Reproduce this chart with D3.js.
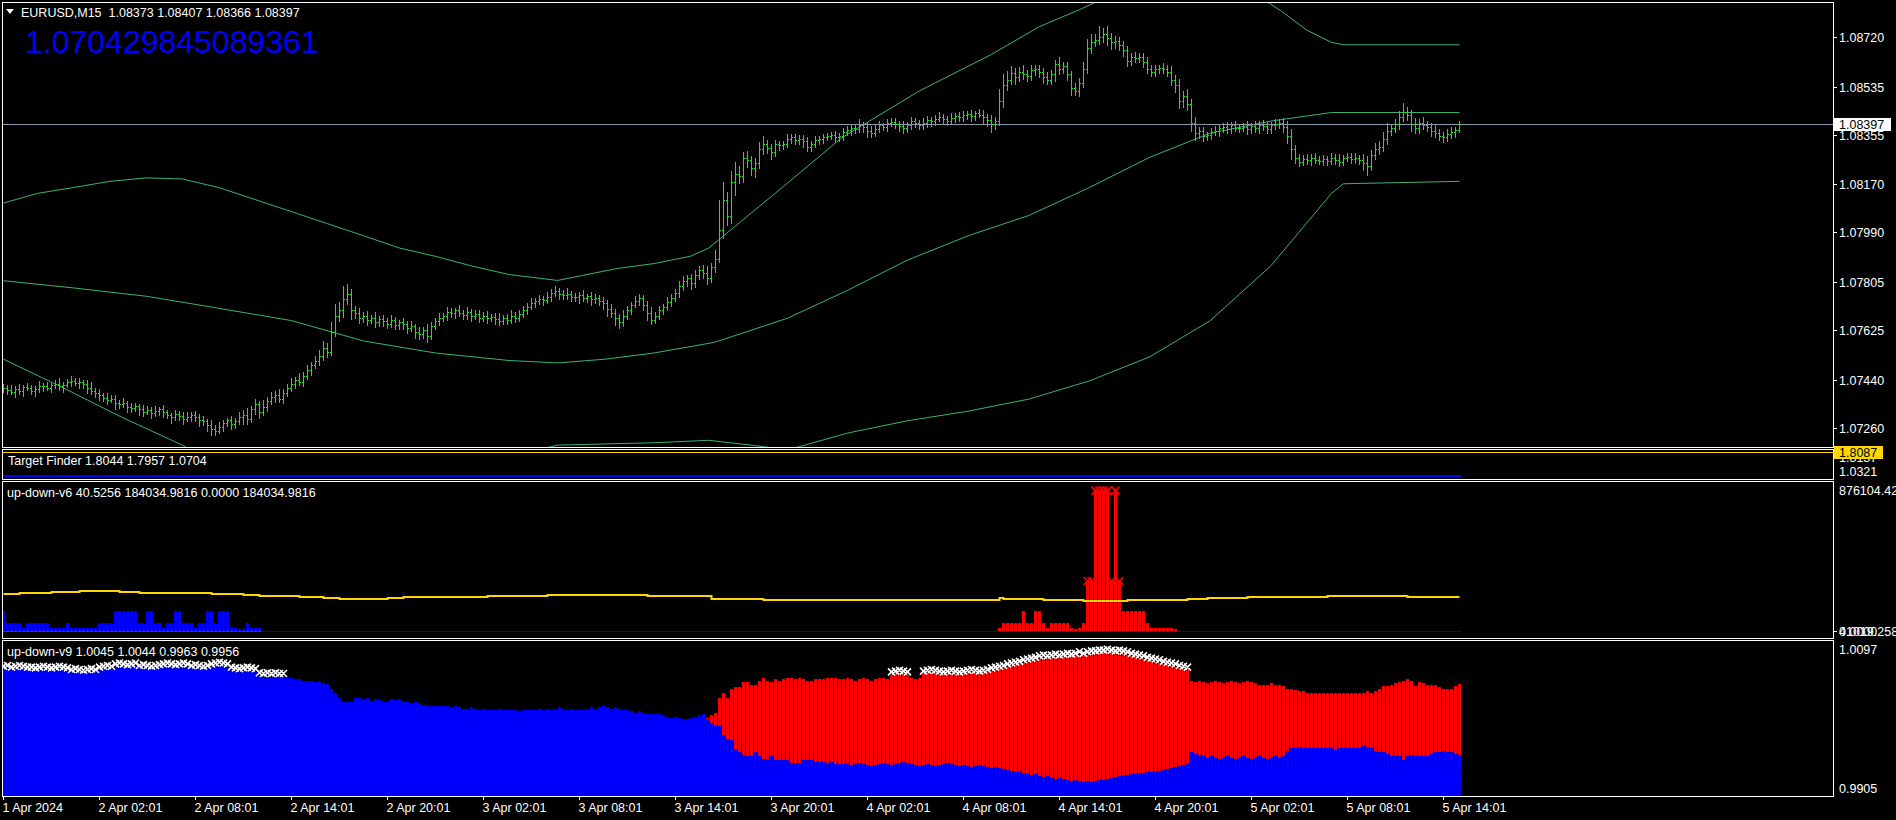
<!DOCTYPE html>
<html>
<head>
<meta charset="utf-8">
<script src="https://cdn.jsdelivr.net/npm/d3@7/dist/d3.min.js"></script>
<style>
html,body{margin:0;padding:0;background:#000;overflow:hidden;}
svg{display:block;}
text{font-family:"Liberation Sans",Arial,sans-serif;font-size:12.5px;fill:#ffffff;white-space:pre;}
</style>
</head>
<body>
<svg id="chart" width="1896" height="820"></svg>
<script>
// ===================== DATA =====================
const symbol = "EURUSD,M15";
const lastOHLC = [1.08373, 1.08407, 1.08366, 1.08397];
const bigValue = "1.070429845089361";
const tfTitle = "Target Finder";
const tfValues = [1.8044, 1.7957, 1.0704];
const tfAxisLabels = ["1.8137", "1.8087", "1.0321"];
const v6Title = "up-down-v6";
const v6Header = ["40.5256", "184034.9816", "0.0000", "184034.9816"];
const v6AxisLabels = ["876104.42", "0.0000", "41019.258"];
const v9Title = "up-down-v9";
const v9Header = ["1.0045", "1.0044", "0.9963", "0.9956"];
const v9AxisLabels = ["1.0097", "0.9905"];

const timeLabels = ["1 Apr 2024","2 Apr 02:01","2 Apr 08:01","2 Apr 14:01","2 Apr 20:01","3 Apr 02:01","3 Apr 08:01","3 Apr 14:01","3 Apr 20:01","4 Apr 02:01","4 Apr 08:01","4 Apr 14:01","4 Apr 20:01","5 Apr 02:01","5 Apr 08:01","5 Apr 14:01"];
const timeLabelBars = [0,24,48,72,96,120,144,168,192,216,240,264,288,312,336,360];
const priceTicks = [1.08720,1.08535,1.08355,1.08170,1.07990,1.07805,1.07625,1.07440,1.07260];

// price in points: price = 1 + pts/100000 ; open = previous close
const firstOpenPts = 7404;
const closePts = [
7410,7402,7395,7405,7398,7412,7408,7400,7406,7415,
7418,7410,7420,7425,7415,7422,7430,7436,7428,7432,
7425,7410,7398,7390,7385,7372,7365,7370,7355,7348,
7352,7340,7335,7342,7330,7320,7328,7315,7322,7330,
7318,7310,7300,7312,7305,7295,7300,7310,7302,7290,
7285,7270,7258,7250,7265,7280,7290,7275,7285,7300,
7310,7295,7330,7350,7320,7340,7360,7375,7385,7370,
7390,7410,7425,7440,7430,7455,7475,7495,7510,7530,
7560,7545,7620,7680,7700,7740,7760,7700,7690,7670,
7680,7665,7672,7655,7668,7660,7650,7662,7645,7655,
7648,7635,7640,7620,7610,7625,7605,7640,7660,7672,
7680,7695,7688,7700,7690,7682,7695,7678,7685,7672,
7680,7670,7675,7668,7660,7672,7665,7680,7670,7685,
7700,7712,7725,7735,7742,7738,7750,7765,7772,7760,
7755,7762,7750,7748,7756,7745,7752,7740,7745,7735,
7725,7705,7690,7670,7655,7680,7700,7720,7735,7745,
7720,7690,7665,7680,7700,7710,7730,7745,7765,7790,
7810,7820,7800,7830,7850,7840,7820,7860,7890,8000,
8110,8050,8180,8210,8200,8270,8260,8230,8250,8300,
8320,8305,8290,8320,8315,8322,8340,8345,8335,8340,
8330,8310,8320,8335,8340,8345,8350,8355,8345,8352,
8365,8372,8380,8375,8392,8385,8370,8362,8378,8390,
8385,8398,8402,8395,8388,8380,8392,8405,8398,8390,
8400,8410,8405,8415,8420,8412,8408,8418,8425,8420,
8428,8432,8425,8435,8430,8420,8410,8395,8405,8480,
8540,8560,8585,8570,8590,8580,8575,8595,8600,8590,
8570,8560,8580,8620,8600,8610,8580,8530,8520,8550,
8600,8680,8700,8710,8720,8730,8715,8700,8705,8690,
8670,8630,8645,8640,8645,8625,8600,8590,8600,8605,
8600,8590,8560,8540,8480,8500,8470,8400,8360,8370,
8350,8355,8365,8368,8380,8385,8378,8390,8382,8380,
8385,8375,8388,8380,8392,8386,8378,8390,8395,8400,
8385,8350,8300,8270,8255,8265,8260,8270,8262,8258,
8265,8258,8270,8262,8255,8268,8272,8265,8270,8262,
8250,8240,8280,8300,8310,8340,8370,8380,8395,8420,
8440,8430,8395,8380,8400,8390,8385,8370,8360,8350,
8345,8358,8365,8373,8397];
// points above max(open,close) / below min(open,close)
const hiExt = [
14,9,17,10,20,7,15,12,9,19,10,15,7,14,20,9,12,17,10,15,
9,14,20,10,15,7,17,12,14,9,19,10,15,12,7,17,14,10,20,9,
15,10,7,17,12,14,20,9,15,10,14,7,19,12,17,10,9,15,14,20,
17,24,14,20,10,25,15,19,12,22,17,14,20,10,24,15,19,12,17,22,
25,17,34,42,30,50,37,20,15,19,14,17,10,20,12,15,9,19,14,10,
15,12,20,10,17,14,24,15,12,19,10,17,14,9,20,12,15,10,17,14,
12,17,9,15,20,10,14,19,12,15,17,14,20,10,15,12,19,14,17,10,
14,19,10,15,12,20,9,17,14,10,15,12,19,14,17,20,15,12,17,14,
10,15,20,14,17,12,19,15,14,20,17,12,15,20,14,17,24,15,34,110,
68,30,40,45,30,20,24,17,20,27,30,14,17,15,12,10,17,14,12,15,
14,17,12,15,10,14,12,9,15,10,14,17,12,15,20,10,14,17,12,15,
10,15,14,17,12,20,10,15,14,12,17,14,10,15,19,12,14,17,10,15,
14,12,17,10,15,19,14,20,17,45,40,34,25,20,17,24,15,19,14,17,
15,20,17,14,25,17,15,14,20,17,25,34,30,20,40,25,30,20,17,15,
14,17,15,20,14,17,20,15,14,10,17,14,20,17,25,20,24,17,20,14,
15,12,17,20,14,15,19,12,17,14,15,20,10,17,14,19,15,12,20,14,
17,20,25,17,14,15,19,12,17,14,15,10,17,14,20,12,15,14,17,10,
20,25,17,24,20,25,30,17,20,25,34,20,17,24,15,20,17,14,20,17,
15,20,18,12,10];
const loExt = [
10,15,9,19,12,17,7,14,20,10,15,9,17,12,14,19,10,15,7,17,
14,19,10,15,20,12,17,9,24,14,10,19,15,12,20,14,9,17,10,15,
17,12,20,9,15,19,10,14,17,24,14,20,25,17,10,15,12,20,14,9,
25,20,14,17,24,12,15,10,19,14,17,12,10,15,9,14,12,17,10,15,
17,20,14,17,20,25,17,34,20,17,15,19,12,17,14,20,15,12,17,14,
17,20,14,25,19,15,24,14,10,15,12,17,14,19,10,15,14,17,12,15,
14,17,12,20,15,10,17,14,15,12,10,14,9,15,12,17,10,14,12,19,
15,12,17,14,20,10,15,19,14,17,20,25,17,24,20,14,12,15,10,14,
20,25,17,14,12,15,10,14,9,17,14,19,20,12,15,20,24,14,17,10,
30,32,25,50,25,20,24,27,34,20,17,20,25,14,17,15,12,17,14,15,
20,17,14,12,15,14,10,12,17,14,15,12,17,14,10,20,24,15,12,14,
14,17,12,15,19,20,14,17,15,14,12,15,17,14,10,15,17,12,14,15,
12,15,17,14,10,20,24,30,17,14,20,17,15,24,14,17,20,15,17,19,
20,17,15,24,17,14,20,25,17,20,17,14,20,15,17,20,24,25,20,17,
20,17,14,15,12,17,14,15,17,14,15,17,20,24,25,20,24,30,25,17,
20,14,15,12,17,14,15,17,14,15,12,17,14,15,19,14,17,15,12,14,
20,25,34,20,17,14,15,17,14,12,15,17,14,15,17,14,12,15,14,17,
25,34,17,14,17,15,20,17,14,17,15,20,25,17,20,15,17,20,15,14,
17,15,14,17,7];

// band lines: [bar index, price points]
const upperBand = [[0,8100],[8.5,8136],[17.5,8158],[26.6,8181],[35.7,8194],[44.7,8190],[53.8,8158],[62.9,8113],[72,8068],[81,8023],[90,7978],[99,7932],[108,7901],[117,7865],[126.4,7833],[138.5,7811],[144.5,7829],[153.6,7856],[162.6,7874],[171.7,7901],[176.3,7932],[192.9,8136],[209.5,8343],[229,8519],[247,8655],[259,8759],[269,8822],[280.5,8903],[295.7,8949],[310.8,8903],[319.8,8813],[325.9,8745],[332,8700],[335,8691],[364,8691]];
const middleBand = [[0,7810],[17.5,7783],[35.7,7752],[53.8,7707],[72,7661],[90,7585],[108,7540],[126.4,7512],[138.5,7503],[150.5,7517],[162.6,7540],[177.8,7580],[196,7670],[211,7774],[226,7887],[241.2,7978],[256.4,8054],[271.5,8158],[286.6,8271],[301.7,8361],[316.8,8406],[332,8438],[364,8438]];
const lowerBand = [[0,7517],[14.5,7413],[29.6,7300],[44.7,7196],[53.8,7120],[75,7052],[105,7074],[138.5,7196],[162.6,7205],[176.3,7214],[187,7196],[196,7178],[211,7241],[226,7287],[241.2,7323],[256.4,7368],[271.5,7436],[286.6,7526],[301.7,7661],[316.8,7865],[332,8136],[335,8172],[364,8181]];

// up-down-v6 histograms
const v6Blue = [
121700,48700,48700,48700,48700,20000,48700,48700,48700,48700,48700,48700,20000,20000,20000,20000,48700,20000,20000,20000,
20000,20000,20000,20000,48700,48700,48700,48700,121700,121700,121700,121700,121700,121700,48700,48700,121700,121700,48700,48700,
20000,48700,48700,121700,121700,48700,48700,48700,20000,48700,48700,121700,121700,48700,121700,121700,121700,20000,20000,12000,
12000,48700,20000,20000,20000,40,40,40,40,40,40,40,40,40,40,40,40,40,40,40,
40,40,40,40,40,40,40,40,40,40,40,40,40,40,40,40,40,40,40,40,
40,40,40,40,40,40,40,40,40,40,40,40,40,40,40,40,40,40,40,40,
40,40,40,40,40,40,40,40,40,40,40,40,40,40,40,40,40,40,40,40,
40,40,40,40,40,40,40,40,40,40,40,40,40,40,40,40,40,40,40,40,
40,40,40,40,40,40,40,40,40,40,40,40,40,40,40,40,40,40,40,40,
40,40,40,40,40,40,40,40,40,40,40,40,40,40,40,40,40,40,40,40,
40,40,40,40,40,40,40,40,40,40,40,40,40,40,40,40,40,40,40,40,
40,40,40,40,40,40,40,40,40,40,40,40,40,40,40,40,40,40,40,40,
40,40,40,40,40,40,40,40,40,40,40,40,40,40,40,40,40,40,40,40,
40,40,40,40,40,40,40,40,40,40,40,40,40,40,40,40,40,40,40,40,
40,40,40,40,40,40,40,40,40,40,40,40,40,40,40,40,40,40,40,40,
40,40,40,40,40,40,40,40,40,40,40,40,40,40,40,40,40,40,40,40,
40,40,40,40,40,40,40,40,40,40,40,40,40,40,40,40,40,40,40,40,
40,40,40,40,40,40,40,40,40,40,40,40,40,40,40,40,40,40,40,40,
40,40,40,40,40.5256];
const v6Red = [
40,40,40,40,40,40,40,40,40,40,40,40,40,40,40,40,40,40,40,40,
40,40,40,40,40,40,40,40,40,40,40,40,40,40,40,40,40,40,40,40,
40,40,40,40,40,40,40,40,40,40,40,40,40,40,40,40,40,40,40,40,
40,40,40,40,40,0,0,0,0,0,0,0,0,0,0,0,0,0,0,0,
0,0,0,0,0,0,0,0,0,0,0,0,0,0,0,0,0,0,0,0,
0,0,0,0,0,0,0,0,0,0,0,0,0,0,0,0,0,0,0,0,
0,0,0,0,0,0,0,0,0,0,0,0,0,0,0,0,0,0,0,0,
0,0,0,0,0,0,0,0,0,0,0,0,0,0,0,0,0,0,0,0,
0,0,0,0,0,0,0,0,0,0,0,0,0,0,0,0,0,0,0,0,
0,0,0,0,0,0,0,0,0,0,0,0,0,0,0,0,0,0,0,0,
0,0,0,0,0,0,0,0,0,0,0,0,0,0,0,0,0,0,0,0,
0,0,0,0,0,0,0,0,0,0,0,0,0,0,0,0,0,0,0,0,
0,0,0,0,0,0,0,0,0,16000,48700,48700,48700,48700,48700,121700,48700,48700,121700,121700,
48700,20000,48700,48700,48700,48700,48700,20000,10000,20000,48700,310000,310000,860000,860000,860000,860000,310000,860000,310000,
121700,121700,121700,121700,121700,121700,48700,20000,20000,20000,20000,20000,20000,10000,0,0,0,0,0,0,
0,0,0,0,0,0,0,0,0,0,0,0,0,0,0,0,0,0,0,0,
0,0,0,0,0,0,0,0,0,0,0,0,0,0,0,0,0,0,0,0,
0,0,0,0,0,0,0,0,0,0,0,0,0,0,0,0,0,0,0,0,
0,0,0,0,0];
// up-down-v6 signal line (stepped): start bar, value
const v6LineStart = [0,4,12,19,29,34,52,60,64,74,80,84,96,100,121,136,161,177,190,249,250,260,270,281,296,301,311,331,351];
const v6LineValue = [225100,231200,237300,243400,237300,231200,225100,219000,214800,208700,202600,196500,202600,208700,214800,219000,214800,196500,188600,202600,196500,188600,182500,188600,196500,202600,208700,214800,208700];

// up-down-v9 histograms
const v9Blue = [
1.0062,1.0063,1.0061,1.0062,1.0063,1.0062,1.0061,1.0061,1.0060,1.0061,
1.0062,1.0061,1.0060,1.0061,1.0062,1.0061,1.0060,1.0058,1.0059,1.0058,
1.0057,1.0058,1.0059,1.0058,1.0061,1.0062,1.0063,1.0062,1.0065,1.0066,
1.0065,1.0064,1.0065,1.0066,1.0063,1.0064,1.0063,1.0062,1.0063,1.0064,
1.0065,1.0066,1.0065,1.0064,1.0065,1.0066,1.0065,1.0063,1.0064,1.0063,
1.0062,1.0063,1.0065,1.0066,1.0067,1.0066,1.0065,1.0061,1.0060,1.0059,
1.0060,1.0061,1.0060,1.0059,1.0054,1.0053,1.0054,1.0053,1.0054,1.0053,
1.0053,1.0051,1.0051,1.0050,1.0050,1.0048,1.0047,1.0047,1.0046,1.0047,
1.0045,1.0044,1.0038,1.0033,1.0027,1.0022,1.0021,1.0022,1.0026,1.0026,
1.0025,1.0026,1.0023,1.0025,1.0024,1.0022,1.0021,1.0025,1.0024,1.0025,
1.0022,1.0021,1.0020,1.0021,1.0020,1.0018,1.0018,1.0017,1.0017,1.0016,
1.0017,1.0016,1.0015,1.0016,1.0015,1.0013,1.0013,1.0015,1.0013,1.0012,
1.0013,1.0012,1.0011,1.0012,1.0013,1.0012,1.0011,1.0012,1.0011,1.0010,
1.0011,1.0012,1.0011,1.0012,1.0013,1.0012,1.0013,1.0012,1.0013,1.0015,
1.0013,1.0012,1.0013,1.0012,1.0011,1.0012,1.0013,1.0015,1.0013,1.0015,
1.0016,1.0015,1.0013,1.0015,1.0013,1.0012,1.0011,1.0010,1.0008,1.0010,
1.0008,1.0007,1.0006,1.0007,1.0006,1.0005,1.0003,1.0002,1.0003,1.0002,
1.0001,1.0000,1.0002,1.0003,1.0005,1.0006,1.0000,0.9996,0.9992,0.9992,
0.9981,0.9976,0.9974,0.9962,0.9960,0.9956,0.9955,0.9955,0.9959,0.9955,
0.9951,0.9951,0.9954,0.9950,0.9950,0.9950,0.9950,0.9946,0.9946,0.9946,
0.9950,0.9950,0.9950,0.9947,0.9947,0.9947,0.9946,0.9947,0.9945,0.9945,
0.9945,0.9946,0.9944,0.9945,0.9946,0.9945,0.9944,0.9942,0.9944,0.9945,
0.9946,0.9945,0.9944,0.9945,0.9946,0.9947,0.9946,0.9945,0.9944,0.9942,
0.9944,0.9945,0.9944,0.9942,0.9944,0.9945,0.9946,0.9945,0.9944,0.9942,
0.9944,0.9942,0.9941,0.9942,0.9944,0.9942,0.9941,0.9940,0.9941,0.9940,
0.9939,0.9937,0.9936,0.9935,0.9936,0.9934,0.9932,0.9931,0.9932,0.9930,
0.9929,0.9930,0.9927,0.9926,0.9927,0.9926,0.9925,0.9924,0.9925,0.9924,
0.9922,0.9924,0.9922,0.9924,0.9925,0.9925,0.9926,0.9927,0.9929,0.9930,
0.9931,0.9931,0.9932,0.9932,0.9934,0.9934,0.9935,0.9935,0.9936,0.9936,
0.9937,0.9939,0.9940,0.9941,0.9942,0.9944,0.9946,0.9959,0.9957,0.9956,
0.9954,0.9952,0.9954,0.9952,0.9951,0.9952,0.9954,0.9952,0.9951,0.9952,
0.9954,0.9952,0.9951,0.9952,0.9954,0.9952,0.9951,0.9952,0.9954,0.9952,
0.9955,0.9961,0.9964,0.9965,0.9966,0.9965,0.9965,0.9965,0.9965,0.9965,
0.9965,0.9965,0.9965,0.9962,0.9964,0.9965,0.9965,0.9964,0.9964,0.9964,
0.9967,0.9966,0.9964,0.9961,0.9960,0.9960,0.9957,0.9954,0.9954,0.9955,
0.9950,0.9955,0.9956,0.9955,0.9954,0.9954,0.9955,0.9957,0.9959,0.9960,
0.9961,0.9959,0.9959,0.9957,0.9956];
const v9RedFirstBar = 176;
const v9Red = [
1.0002,1.0005,1.0008,1.0027,
1.0033,1.0027,1.0037,1.0040,1.0040,1.0046,1.0046,1.0043,1.0043,1.0048,
1.0051,1.0047,1.0046,1.0050,1.0048,1.0050,1.0051,1.0051,1.0050,1.0051,
1.0050,1.0047,1.0047,1.0050,1.0050,1.0050,1.0051,1.0051,1.0051,1.0050,
1.0050,1.0051,1.0050,1.0048,1.0050,1.0051,1.0050,1.0048,1.0050,1.0051,
1.0051,1.0050,1.0055,1.0056,1.0057,1.0056,1.0055,1.0051,1.0050,1.0051,
1.0056,1.0057,1.0058,1.0057,1.0056,1.0055,1.0056,1.0057,1.0056,1.0055,
1.0056,1.0057,1.0058,1.0057,1.0056,1.0057,1.0058,1.0060,1.0061,1.0062,
1.0063,1.0065,1.0066,1.0067,1.0068,1.0070,1.0071,1.0072,1.0073,1.0075,
1.0076,1.0075,1.0076,1.0077,1.0076,1.0077,1.0078,1.0077,1.0078,1.0080,
1.0078,1.0080,1.0081,1.0081,1.0082,1.0082,1.0083,1.0082,1.0081,1.0082,
1.0081,1.0080,1.0078,1.0077,1.0076,1.0075,1.0073,1.0072,1.0071,1.0070,
1.0068,1.0067,1.0066,1.0065,1.0063,1.0062,1.0061,1.0047,1.0046,1.0047,
1.0046,1.0045,1.0046,1.0047,1.0046,1.0045,1.0046,1.0047,1.0046,1.0045,
1.0046,1.0047,1.0046,1.0045,1.0043,1.0042,1.0043,1.0045,1.0043,1.0042,
1.0041,1.0038,1.0037,1.0036,1.0035,1.0035,1.0033,1.0032,1.0032,1.0032,
1.0033,1.0032,1.0033,1.0033,1.0033,1.0033,1.0032,1.0033,1.0032,1.0032,
1.0033,1.0035,1.0033,1.0035,1.0037,1.0041,1.0041,1.0042,1.0045,1.0046,
1.0048,1.0050,1.0048,1.0041,1.0046,1.0045,1.0043,1.0042,1.0042,1.0040,
1.0038,1.0037,1.0038,1.0041,1.0044];
const v9SignalLevel = 1.0052;   // white marks above this level
const v6SignalLevel = 300000;   // red marks above this level

// ===================== DRAWING =====================
const W = 1896, H = 820;
const svg = d3.select('#chart');
svg.append('rect').attr('width', W).attr('height', H).attr('fill', '#000');
const defs = svg.append('defs');
function clipRect(id, x0, y0, x1, y1) {
  defs.append('clipPath').attr('id', id).append('rect')
    .attr('x', x0).attr('y', y0).attr('width', x1 - x0).attr('height', y1 - y0);
  return 'url(#' + id + ')';
}
const N = closePts.length;
const x = d3.scaleLinear().domain([0, N - 1]).range([3.5, 3.5 + 4 * (N - 1)]);
const px = i => Math.floor(x(i));
const toP = p => 1 + p / 1e5;

const yP = d3.scaleLinear().domain([1.0726, 1.0872]).range([428, 37]);
const yTF = d3.scaleLinear().domain([tfValues[2], tfValues[0]]).range([476, 452]);
const yV6 = d3.scaleLinear().domain([0, 876104.42]).range([631, 487]);
const yV9 = d3.scaleLinear().domain([0.9905, 1.0097]).range([796, 641]);

function txt(g, xx, yy, s, fill, size) {
  const t = g.append('text').attr('x', xx).attr('y', yy).attr('dominant-baseline', 'central').text(s);
  if (fill) t.style('fill', fill);
  if (size) t.style('font-size', size + 'px');
  return t;
}

// ---------- main panel ----------
const gM = svg.append('g').attr('clip-path', clipRect('cM', 3, 3, 1833, 447));
const bandLine = d3.line().x(d => x(d[0])).y(d => yP(toP(d[1])));
[upperBand, middleBand, lowerBand].forEach(b =>
  gM.append('path').attr('d', bandLine(b)).attr('fill', 'none')
    .attr('stroke', '#3cb371').attr('stroke-width', 1));
const yLast = Math.round(yP(lastOHLC[3])) + 0.5;
gM.append('line').attr('x1', 3).attr('x2', 1833).attr('y1', yLast).attr('y2', yLast)
  .attr('stroke', '#8c9bab').attr('stroke-width', 1);
let dBars = '';
closePts.forEach((c, i) => {
  const o = i === 0 ? firstOpenPts : closePts[i - 1];
  const hi = Math.max(o, c) + hiExt[i], lo = Math.min(o, c) - loExt[i];
  const cx = px(i);
  const yh = Math.round(yP(toP(hi))), yl = Math.round(yP(toP(lo)));
  const yo = Math.round(yP(toP(o))), yc = Math.round(yP(toP(c)));
  dBars += `M${cx},${yh}h1v${Math.max(1, yl - yh + 1)}h-1z`;
  dBars += `M${cx - 1},${yo}h1v1h-1z`;
  dBars += `M${cx + 1},${yc}h1v1h-1z`;
});
gM.append('path').attr('d', dBars).attr('fill', '#22e022').attr('shape-rendering', 'crispEdges');

// ---------- target finder ----------
const gT = svg.append('g').attr('clip-path', clipRect('cT', 3, 450, 1833, 479));
[tfValues[0], tfValues[1]].forEach(v => {
  const yy = Math.round(yTF(v)) + 0.5;
  gT.append('line').attr('x1', 3).attr('x2', 1833).attr('y1', yy).attr('y2', yy)
    .attr('stroke', '#ffd700').attr('stroke-width', 1);
});
{
  const yy = Math.round(yTF(tfValues[2]));
  gT.append('line').attr('x1', 3).attr('x2', px(N - 1) + 2).attr('y1', yy).attr('y2', yy)
    .attr('stroke', '#0000ff').attr('stroke-width', 2);
}

// ---------- up-down-v6 ----------
const g6 = svg.append('g').attr('clip-path', clipRect('c6', 3, 482, 1833, 638));
const base6 = yV6(0);
function histo(g, vals, first, color, yS, base) {
  let dBig = '', dTiny = '';
  vals.forEach((v, k) => {
    if (v == null || v <= 0) return;
    const i = first + k;
    const cx = px(i);
    const yt = Math.round(yS(v));
    const h = base - yt;
    if (h < 1.5) dTiny += `M${cx - 1},${base}h3v1h-3z`;
    else dBig += `M${cx - 1},${yt}h3v${h}h-3z`;
  });
  g.append('path').attr('d', dBig + dTiny).attr('fill', color).attr('shape-rendering', 'crispEdges');
}
histo(g6, v6Blue, 0, '#0000ff', yV6, base6);
histo(g6, v6Red, 0, '#ff0000', yV6, base6);
{
  const pts = v6LineStart.map((s, k) => [s, v6LineValue[k]]);
  pts.push([N - 1, v6LineValue[v6LineValue.length - 1]]);
  const ln = d3.line().x(d => x(d[0])).y(d => Math.round(yV6(d[1]))).curve(d3.curveStepAfter);
  g6.append('path').attr('d', ln(pts)).attr('fill', 'none').attr('stroke', '#ffd700').attr('stroke-width', 2);
}
{
  let dm = '';
  v6Red.forEach((v, i) => {
    if (v >= v6SignalLevel) {
      const cx = px(i) + 0.5, cy = yV6(v) + 1;
      dm += `M${cx - 4},${cy - 4}L${cx + 4},${cy + 4}M${cx + 4},${cy - 4}L${cx - 4},${cy + 4}`;
    }
  });
  g6.append('path').attr('d', dm).attr('stroke', '#ff0000').attr('stroke-width', 1.6).attr('fill', 'none');
}

// ---------- up-down-v9 ----------
const g9 = svg.append('g').attr('clip-path', clipRect('c9', 3, 641, 1833, 796));
histo(g9, v9Red, v9RedFirstBar, '#ff0000', yV9, 796);
histo(g9, v9Blue, 0, '#0000ff', yV9, 796);
{
  let dm = '';
  v9Blue.forEach((b, i) => {
    const r = i >= v9RedFirstBar ? v9Red[i - v9RedFirstBar] : null;
    const top = r != null ? Math.max(r, b) : b;
    if (top >= v9SignalLevel) {
      const cx = px(i) + 0.5, cy = yV9(top) - 3;
      dm += `M${cx - 3.5},${cy - 3.5}L${cx + 3.5},${cy + 3.5}M${cx + 3.5},${cy - 3.5}L${cx - 3.5},${cy + 3.5}`;
    }
  });
  g9.append('path').attr('d', dm).attr('stroke', '#ffffff').attr('stroke-width', 1.6).attr('fill', 'none');
}

// ---------- borders ----------
const gB = svg.append('g').attr('fill', 'none').attr('stroke', '#ffffff').attr('stroke-width', 1)
  .attr('shape-rendering', 'crispEdges');
[[2, 447], [449, 479], [481, 638], [640, 796]].forEach(([t, b]) =>
  gB.append('rect').attr('x', 2.5).attr('y', t + 0.5).attr('width', 1831).attr('height', b - t));

// ---------- right axis ----------
const gA = svg.append('g');
priceTicks.forEach(v => {
  const yy = Math.round(yP(v));
  gA.append('line').attr('x1', 1833).attr('x2', 1837).attr('y1', yy + 0.5).attr('y2', yy + 0.5)
    .attr('stroke', '#fff').attr('stroke-width', 1);
  txt(gA, 1839, yy + 0.5, v.toFixed(5));
});
{
  const yy = Math.round(yP(lastOHLC[3]));
  gA.append('rect').attr('x', 1834).attr('y', yy - 6).attr('width', 57).attr('height', 13).attr('fill', '#ffffff');
  txt(gA, 1839, yy + 0.5, lastOHLC[3].toFixed(5), '#000000');
}
// target finder labels
txt(gA, 1839, 458, tfAxisLabels[0]);
txt(gA, 1839, 471.5, tfAxisLabels[2]);
gA.append('rect').attr('x', 1834).attr('y', 446).attr('width', 49).attr('height', 13).attr('fill', '#ffd700');
txt(gA, 1839, 452.5, tfAxisLabels[1], '#000000');
// v6 labels
txt(gA, 1839, 490.5, v6AxisLabels[0]);
gA.append('line').attr('x1', 1833).attr('x2', 1837).attr('y1', 631.5).attr('y2', 631.5).attr('stroke', '#fff');
txt(gA, 1839, 631.5, v6AxisLabels[1]);
txt(gA, 1839, 631.5, v6AxisLabels[2]);
// v9 labels
txt(gA, 1839, 649.5, v9AxisLabels[0]);
txt(gA, 1839, 788.5, v9AxisLabels[1]);

// ---------- time axis ----------
timeLabelBars.forEach((b, k) => {
  const xx = px(b);
  gA.append('line').attr('x1', xx + 0.5).attr('x2', xx + 0.5).attr('y1', 797).attr('y2', 800)
    .attr('stroke', '#fff').attr('stroke-width', 1);
  txt(gA, xx - 0.5, 807.5, timeLabels[k]);
});

// ---------- titles ----------
svg.append('path').attr('d', 'M6,9L14,9L10,14Z').attr('fill', '#ffffff');
txt(svg, 21, 12.5, symbol + '  ' + lastOHLC.map(v => v.toFixed(5)).join(' '));
txt(svg, 25, 41.5, bigValue, '#0000ff', 32);
txt(svg, 8, 460.5, tfTitle + ' ' + tfValues.map(v => v.toFixed(4)).join(' '));
txt(svg, 7, 492.5, v6Title + ' ' + v6Header.join(' '));
txt(svg, 7, 652, v9Title + ' ' + v9Header.join(' '));
</script>
</body>
</html>
